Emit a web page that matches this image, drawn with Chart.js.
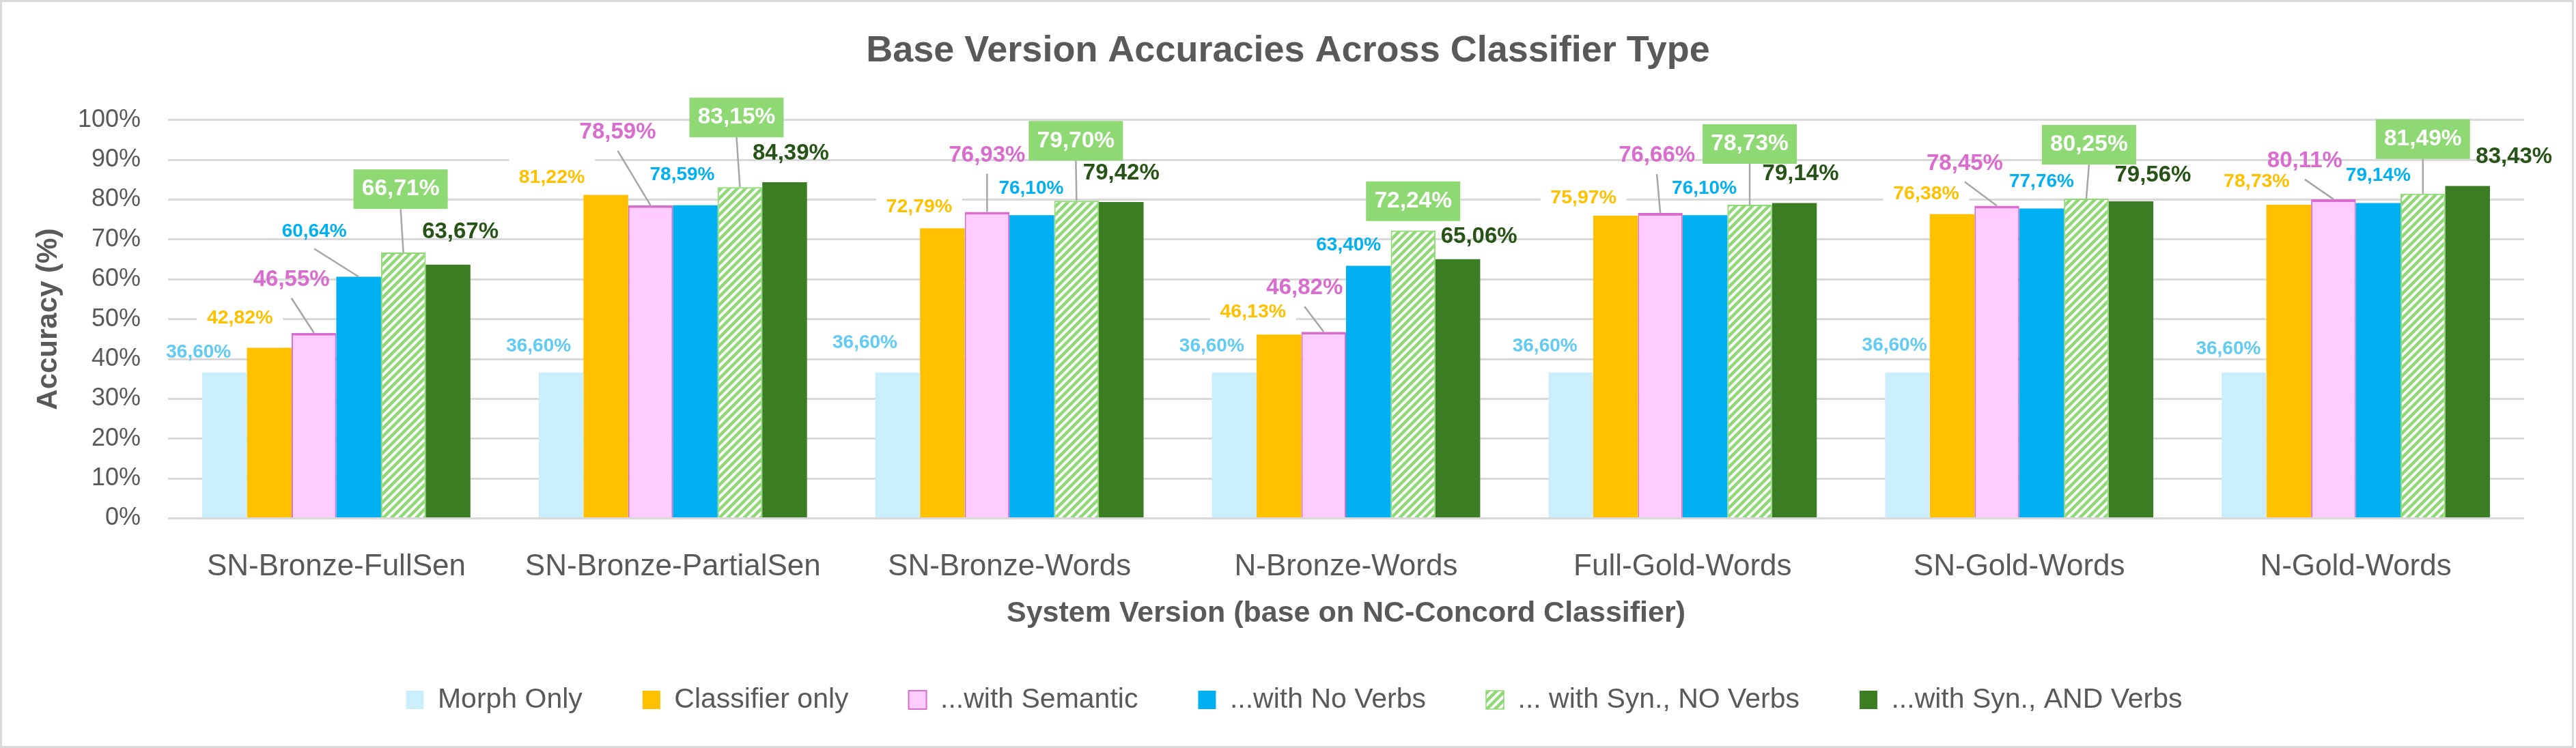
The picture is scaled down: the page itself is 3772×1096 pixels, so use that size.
<!DOCTYPE html>
<html>
<head>
<meta charset="utf-8">
<script src="https://cdn.jsdelivr.net/npm/chart.js@4.4.1/dist/chart.umd.min.js"></script>
<style>
  html, body { margin: 0; padding: 0; background: #fff; overflow: hidden; }
  #wrap { width: 3772px; height: 1096px; }
</style>
</head>
<body>
<div id="wrap"><canvas id="accChart" width="3772" height="1096"></canvas></div>
<script>
const categories = ["SN-Bronze-FullSen", "SN-Bronze-PartialSen", "SN-Bronze-Words", "N-Bronze-Words",
                    "Full-Gold-Words", "SN-Gold-Words", "N-Gold-Words"];
const seriesNames = ["Morph Only", "Classifier only", "...with Semantic", "...with No Verbs",
                     "... with Syn., NO Verbs", "...with Syn., AND Verbs"];

const morphOnly      = [36.60, 36.60, 36.60, 36.60, 36.60, 36.60, 36.60];
const classifierOnly = [42.82, 81.22, 72.79, 46.13, 75.97, 76.38, 78.73];
const withSemantic   = [46.55, 78.59, 76.93, 46.82, 76.66, 78.45, 80.11];
const withNoVerbs    = [60.64, 78.59, 76.10, 63.40, 76.10, 77.76, 79.14];
const synNoVerbs     = [66.71, 83.15, 79.70, 72.24, 78.73, 80.25, 81.49];
const synAndVerbs    = [63.67, 84.39, 79.42, 65.06, 79.14, 79.56, 83.43];

const yTickLabels = ["0%", "10%", "20%", "30%", "40%", "50%", "60%", "70%", "80%", "90%", "100%"];

// where each value label sits relative to the top of its bar: [dx, dy, leader line?]
const labelNudges = [
  [[-38, -30], [-33, -39], [-48, -44], [-33, -39], [-38, -39], [-19, -40], [-23, -35]],
  [[-43, -43], [-79, -25], [-34, -31], [-38, -33], [-47, -26], [-38, -30], [-47, -34]],
  [[-33, -78, 1], [-48, -107, 1], [0, -83, 1], [-28, -64, 1], [-5, -84, 1], [-47, -62, 1], [-42, -56, 1]],
  [[-65, -66, 1], [-19, -44], [-1, -39], [-29, -30], [-1, -39], [0, -39], [0, -40]],
  [[-4, -93, 1], [-5, -102, 1], [-1, -88, 1], [0, -43], [0, -89, 1], [4, -79, 1], [0, -80, 1]],
  [[18, -48], [9, -42], [0, -42], [31, -33], [9, -43], [32, -38], [68, -43]]
];

const FONT = "'Liberation Sans', Arial, sans-serif";
const GREY = "#595959";
Chart.defaults.font.family = FONT;
Chart.defaults.color = GREY;

const canvas = document.getElementById("accChart");
const ctx0 = canvas.getContext("2d");

function hatch(color) {
  const s = 12;
  const c = document.createElement("canvas");
  c.width = s; c.height = s;
  const g = c.getContext("2d");
  g.fillStyle = "#fff";
  g.fillRect(0, 0, s, s);
  g.strokeStyle = color;
  g.lineWidth = 4.5;
  g.beginPath();
  g.moveTo(-s / 2, s / 2); g.lineTo(s / 2, -s / 2);
  g.moveTo(0, s); g.lineTo(s, 0);
  g.moveTo(s / 2, s * 1.5); g.lineTo(s * 1.5, s / 2);
  g.stroke();
  return ctx0.createPattern(c, "repeat");
}

const labelStyle = [
  { color: "#61CBF3", size: 28 },
  { color: "#FFC000", size: 28.5, clear: true },
  { color: "#D86DCD", size: 33, lead: 27 },
  { color: "#00B0F0", size: 28, lead: 25 },
  { color: "#FFFFFF", size: 33.5, lead: 29, box: "#8ED973" },
  { color: "#275317", size: 33 }
];

const frame = {
  id: "frame",
  beforeDraw(chart) {
    const { ctx, width, height } = chart;
    ctx.save();
    ctx.fillStyle = "#fff";
    ctx.fillRect(0, 0, width, height);
    ctx.strokeStyle = "#D9D9D9";
    ctx.lineWidth = 3;
    ctx.strokeRect(1.5, 1.5, width - 6, height - 3);
    ctx.restore();
  },
  // title and legend are centred on the whole picture, not on the padded box
  afterLayout(chart) {
    const t = chart.titleBlock, l = chart.legend;
    const tShift = chart.width / 2 - (t.left + t.right) / 2;
    t.left += tShift; t.right += tShift;
    const lShift = chart.width / 2 + 9 - (l.left + l.right) / 2;
    l.left += lShift; l.right += lShift;
  }
};

const valueLabels = {
  id: "valueLabels",
  afterDatasetsDraw(chart) {
    const ctx = chart.ctx;
    ctx.save();
    chart.data.datasets.forEach((ds, i) => {
      const st = labelStyle[i];
      chart.getDatasetMeta(i).data.forEach((bar, j) => {
        const [dx, dy, lead] = labelNudges[i][j];
        const lx = bar.x + dx, ly = bar.y + dy;
        const text = ds.data[j].toFixed(2).replace(".", ",") + "%";
        if (lead) {
          ctx.strokeStyle = "#A6A6A6";
          ctx.lineWidth = 2.5;
          ctx.beginPath();
          ctx.moveTo(lx, ly + st.lead);
          ctx.lineTo(bar.x, bar.y);
          ctx.stroke();
        }
        if (st.box) {
          ctx.fillStyle = st.box;
          ctx.fillRect(lx - 69, ly - 29, 138, 58);
        }
        if (st.clear) {
          ctx.fillStyle = "#fff";
          ctx.fillRect(lx - 63, ly - 30, 126, 52);
        }
        ctx.font = "bold " + st.size + "px " + FONT;
        ctx.fillStyle = st.color;
        ctx.textAlign = "center";
        ctx.textBaseline = "middle";
        ctx.fillText(text, lx, ly);
      });
    });
    ctx.restore();
  }
};

new Chart(canvas, {
  type: "bar",
  data: {
    labels: categories,
    datasets: [
      { label: seriesNames[0], data: morphOnly, backgroundColor: "#CAEEFB" },
      { label: seriesNames[1], data: classifierOnly, backgroundColor: "#FFC000" },
      { label: seriesNames[2], data: withSemantic, backgroundColor: "#FFCCFF",
        borderColor: "#D86DCD", borderWidth: { top: 4, left: 2, right: 2, bottom: 0 } },
      { label: seriesNames[3], data: withNoVerbs, backgroundColor: "#00B0F0" },
      { label: seriesNames[4], data: synNoVerbs, backgroundColor: hatch("#8ED973"),
        borderColor: "#8ED973", borderWidth: { top: 2, left: 2, right: 2, bottom: 0 } },
      { label: seriesNames[5], data: synAndVerbs, backgroundColor: "#3A7D22" }
    ]
  },
  options: {
    responsive: false,
    devicePixelRatio: 1,
    animation: false,
    layout: { padding: { left: 0, right: 76, top: 0, bottom: 40 } },
    datasets: { bar: { categoryPercentage: 0.797, barPercentage: 1 } },
    plugins: {
      title: {
        display: true,
        text: "Base Version Accuracies Across Classifier Type",
        color: GREY,
        font: { size: 54, weight: "bold" },
        padding: { top: 43, bottom: 68 }
      },
      legend: {
        position: "bottom",
        labels: { color: GREY, font: { size: 41 }, boxWidth: 26, boxHeight: 27, padding: 88 }
      },
      tooltip: { enabled: false }
    },
    scales: {
      x: {
        grid: { display: false },
        border: { display: false },
        ticks: { color: GREY, font: { size: 44 }, padding: 37 },
        title: {
          display: true,
          text: "System Version (base on NC-Concord Classifier)",
          color: GREY,
          font: { size: 43, weight: "bold" },
          padding: { top: 0, bottom: -8 }
        },
        afterFit(s) { s.height = 157.5; }
      },
      y: {
        min: 0,
        max: 100,
        ticks: {
          stepSize: 10,
          color: GREY,
          font: { size: 36 },
          padding: 40,
          callback: (v, i) => yTickLabels[i]
        },
        grid: { color: "#D9D9D9", lineWidth: 3, drawTicks: false },
        border: { display: false },
        title: {
          display: true,
          text: "Accuracy (%)",
          color: GREY,
          font: { size: 42, weight: "bold" },
          padding: { top: 46, bottom: 0 }
        },
        afterFit(s) { s.width = 246; }
      }
    }
  },
  plugins: [frame, valueLabels]
});
</script>
</body>
</html>
